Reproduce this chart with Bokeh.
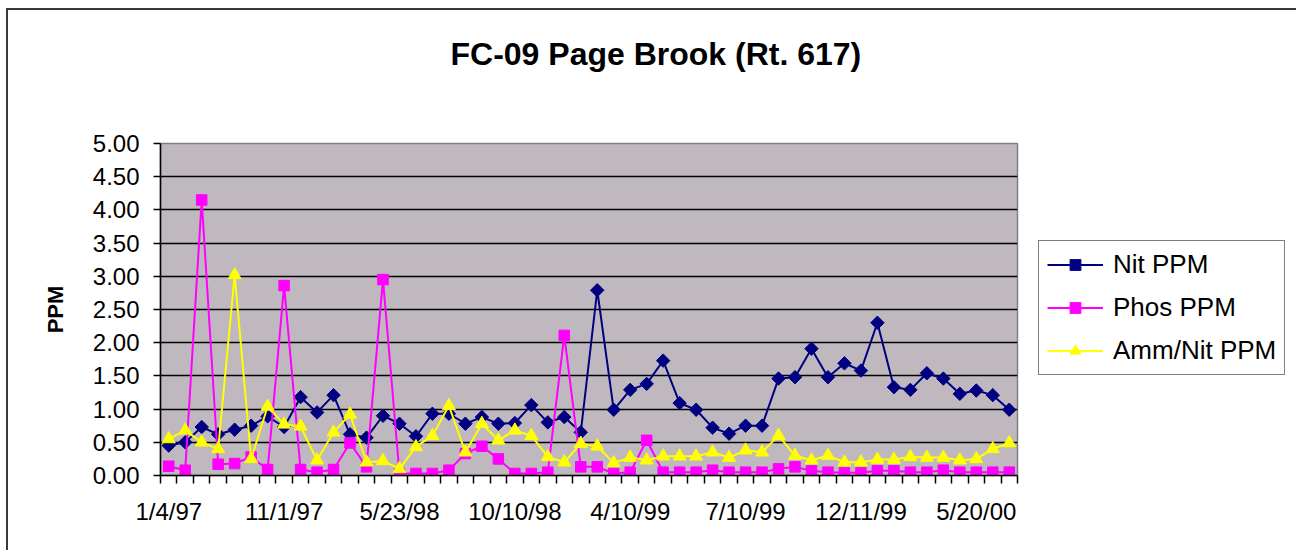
import math
from bokeh.plotting import figure
from bokeh.models import (FixedTicker, PrintfTickFormatter, Legend, LegendItem,
                          ColumnDataSource, Title)
from bokeh.embed import file_html
from bokeh.resources import INLINE

# ---------------- data ----------------
title_text = "FC-09 Page Brook (Rt. 617)"
series_names = ["Nit PPM", "Phos PPM", "Amm/Nit PPM"]
tick_labels = ["1/4/97", "11/1/97", "5/23/98", "10/10/98",
               "4/10/99", "7/10/99", "12/11/99", "5/20/00"]
label_every = 7

nit = [0.45, 0.50, 0.73, 0.62, 0.69, 0.75, 0.89, 0.73, 1.18, 0.95,
       1.21, 0.62, 0.57, 0.90, 0.78, 0.59, 0.93, 0.93, 0.78, 0.88,
       0.78, 0.79, 1.06, 0.80, 0.88, 0.65, 2.79, 0.99, 1.29, 1.38,
       1.73, 1.09, 0.99, 0.72, 0.63, 0.75, 0.75, 1.46, 1.48, 1.91,
       1.48, 1.69, 1.58, 2.30, 1.33, 1.29, 1.54, 1.46, 1.23, 1.28,
       1.21, 0.99]
phos = [0.14, 0.08, 4.15, 0.17, 0.18, 0.28, 0.09, 2.86, 0.09, 0.05,
        0.09, 0.49, 0.13, 2.95, 0.03, 0.03, 0.03, 0.08, 0.33, 0.44,
        0.25, 0.03, 0.03, 0.05, 2.11, 0.13, 0.13, 0.03, 0.05, 0.53,
        0.05, 0.05, 0.05, 0.08, 0.05, 0.05, 0.05, 0.10, 0.13, 0.07,
        0.05, 0.04, 0.04, 0.07, 0.07, 0.05, 0.05, 0.08, 0.05, 0.05,
        0.05, 0.05]
amm = [0.55, 0.68, 0.50, 0.40, 3.02, 0.25, 1.04, 0.77, 0.74, 0.23,
       0.65, 0.92, 0.20, 0.22, 0.10, 0.43, 0.60, 1.05, 0.35, 0.78,
       0.53, 0.68, 0.60, 0.28, 0.20, 0.48, 0.44, 0.19, 0.27, 0.23,
       0.29, 0.29, 0.29, 0.35, 0.27, 0.38, 0.35, 0.60, 0.30, 0.23,
       0.30, 0.20, 0.20, 0.24, 0.24, 0.28, 0.27, 0.27, 0.23, 0.25,
       0.40, 0.49]

n = len(nit)
idx = list(range(n))
FONT = "Liberation Sans"

src = ColumnDataSource(dict(x=idx, nit=nit, phos=phos, amm=amm))

p = figure(frame_width=857, frame_height=332,
           x_range=(-0.5, n - 0.5), y_range=(0, 5),
           output_backend="svg", toolbar_location=None, title=None,
           min_border_left=152, min_border_right=0,
           min_border_top=133, min_border_bottom=75,
           background_fill_color="#BFB8BF", border_fill_color="white")
p.styles = {"border-top": "2px solid #3a3a3a", "border-left": "2px solid #3a3a3a",
            "margin-left": "6px", "margin-top": "8px"}

# titles: a blank spacer next to the frame, then the real title above it
spacer = Title(text=" ", text_font_size="10px", standoff=58,
               text_color="white")
p.add_layout(spacer, "above")
main_title = Title(text=title_text, align="left", offset=290, standoff=0,
                   vertical_align="middle",
                   text_font=FONT, text_font_size="32px",
                   text_font_style="bold", text_color="black")
p.add_layout(main_title, "above")

p.outline_line_color = "#808080"
p.outline_line_width = 1.5

# y axis
yt = FixedTicker(ticks=[i * 0.5 for i in range(11)])
p.yaxis.ticker = yt
p.yaxis.formatter = PrintfTickFormatter(format="%.2f")
p.yaxis.major_tick_out = 7
p.yaxis.major_tick_in = 0
p.yaxis.minor_tick_line_color = None
p.yaxis.axis_line_width = 1.5
p.yaxis.major_tick_line_width = 1.5
p.yaxis.axis_line_color = "black"
p.yaxis.major_label_standoff = 14
p.yaxis.major_label_text_font = FONT
p.yaxis.major_label_text_font_size = "24px"
p.yaxis.major_label_text_color = "black"
p.yaxis.axis_label = "PPM"
p.yaxis.axis_label_text_font = FONT
p.yaxis.axis_label_text_font_size = "22px"
p.yaxis.axis_label_text_font_style = "bold"
p.yaxis.axis_label_text_color = "black"
p.yaxis.axis_label_standoff = 22

# x axis (category axis, ticks between categories)
tick_index = [i * label_every for i in range(len(tick_labels))]
p.xaxis.ticker = FixedTicker(ticks=tick_index,
                             minor_ticks=[i - 0.5 for i in range(n + 1)])
p.xaxis.major_label_overrides = {t: l for t, l in zip(tick_index, tick_labels)}
p.xaxis.major_tick_line_color = None
p.xaxis.major_tick_out = 0
p.xaxis.major_tick_in = 0
p.xaxis.minor_tick_out = 8
p.xaxis.minor_tick_in = 0
p.xaxis.minor_tick_line_color = "black"
p.xaxis.minor_tick_line_width = 1.5
p.xaxis.axis_line_width = 1.5
p.xaxis.axis_line_color = "black"
p.xaxis.major_label_standoff = 14
p.xaxis.major_label_text_font = FONT
p.xaxis.major_label_text_font_size = "24px"
p.xaxis.major_label_text_color = "black"

p.xgrid.grid_line_color = None
p.ygrid.ticker = yt
p.ygrid.grid_line_color = "black"
p.ygrid.grid_line_width = 1.5

# series
nl = p.line("x", "nit", source=src, line_color="#000080", line_width=2)
nm = p.scatter("x", "nit", source=src, marker="square", angle=math.pi / 4,
               size=9.5, fill_color="#000080", line_color="#000080")
pl = p.line("x", "phos", source=src, line_color="#FF00FF", line_width=2)
pm = p.scatter("x", "phos", source=src, marker="square", size=10.5,
               fill_color="#FF00FF", line_color="#FF00FF")
al = p.line("x", "amm", source=src, line_color="#FFFF00", line_width=2)
am = p.scatter("x", "amm", source=src, marker="triangle", size=13,
               fill_color="#FFFF00", line_color="#FFFF00")

legend = Legend(items=[LegendItem(label=series_names[0], renderers=[nl, nm]),
                       LegendItem(label=series_names[1], renderers=[pl, pm]),
                       LegendItem(label=series_names[2], renderers=[al, am])],
                location=(21, 100),
                border_line_color="black", border_line_width=1.5,
                background_fill_color="white", background_fill_alpha=1,
                label_text_font=FONT, label_text_font_size="26px",
                label_text_color="black",
                glyph_width=56, glyph_height=27, label_height=27,
                spacing=12, padding=8, margin=0, label_standoff=10)
p.add_layout(legend, "right")

open("out.html", "w").write(file_html(p, INLINE))
